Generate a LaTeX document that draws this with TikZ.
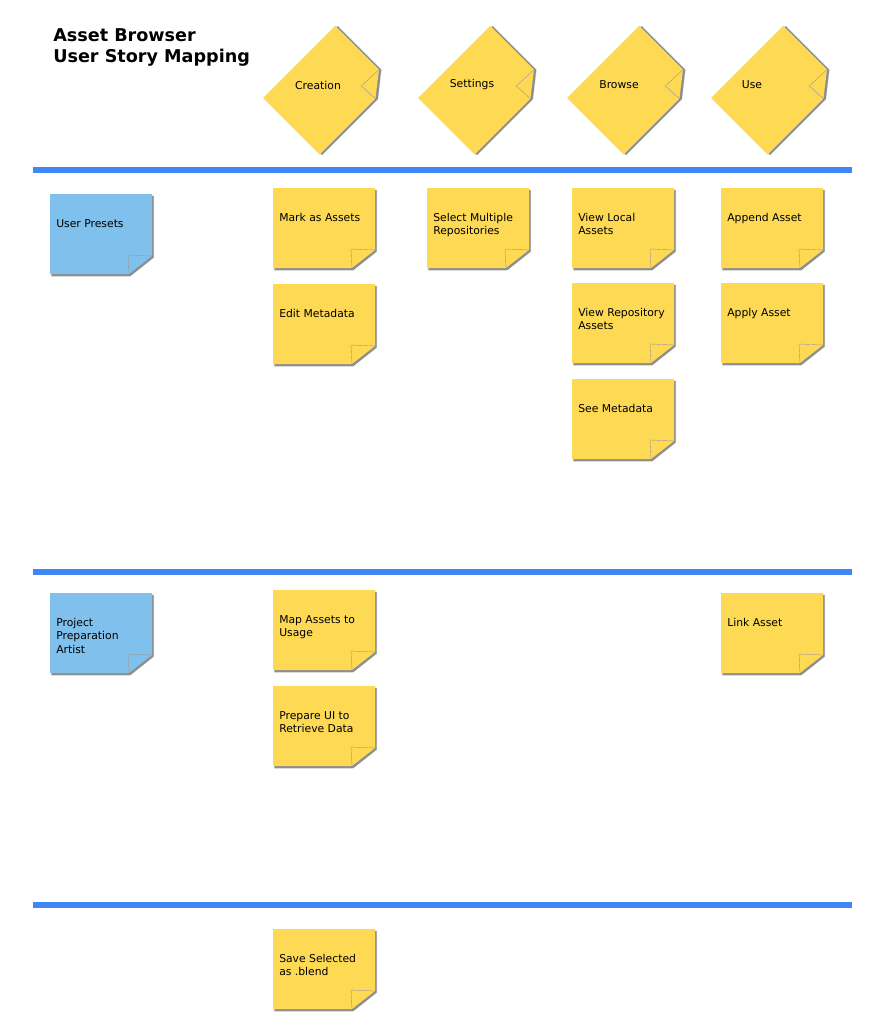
\documentclass[tikz,border=0pt]{standalone}
\usepackage{fontspec}
\setmainfont{DejaVu Sans}

\definecolor{noteyellow}{RGB}{254,217,84}
\definecolor{noteblue}{RGB}{128,192,236}
\definecolor{barblue}{RGB}{66,133,244}

\begin{document}
\begin{tikzpicture}[x=0.75pt,y=-0.75pt,
  every node/.style={font=\fontsize{8.1}{10.1}\selectfont,inner sep=0pt,align=left},
  pics/sticky/.style={code={
    % shadow, note, folded corner
    \fill[black,opacity=0.15] (1,1.5) -- (104,1.5) -- (104,64) -- (80,82.5) -- (1,82.5) -- cycle;
    \fill[black,opacity=0.35] (1.5,2) -- (103.5,2) -- (103.5,63.5) -- (80.5,82) -- (1.5,82) -- cycle;
    \fill[#1] (0,0) -- (102,0) -- (102,62) -- (79,80) -- (0,80) -- cycle;
    \draw[black!40,line width=0.3pt] (102,62) -- (78,61) -- (79,80);
  }}]
  \fill[white] (0,0) rectangle (875,1024);
  \useasboundingbox (0,0) rectangle (875,1024);

  % title
  \node[anchor=north west,font=\bfseries\fontsize{13.2}{16.4}\selectfont] (title) at (53,28)
    {Asset Browser\\User Story Mapping};

  % activities (rotated notes)
  \foreach \n/\x/\lx/\t in {creation/263/318/Creation,settings/418/472/Settings,
                            browse/567/619/Browse,use/711/752/Use}{
    \pic[rotate=45] at (\x,98) {sticky=noteyellow};
    \node (\n) at (\lx,85) {\t};
  }

  % release lines
  \foreach \y in {170,572,905}
    \fill[barblue] (33,\y-3) rectangle (852,\y+3);

  % stories
  \foreach \n/\x/\y/\c/\t in {
      presets/50/194/noteblue/{User Presets},
      mark/273/188/noteyellow/{Mark as Assets},
      editmeta/273/284/noteyellow/{Edit Metadata},
      selectrepo/427/188/noteyellow/{Select Multiple\\Repositories},
      viewlocal/572/188/noteyellow/{View Local\\Assets},
      viewrepo/572/283/noteyellow/{View Repository\\Assets},
      seemeta/572/379/noteyellow/{See Metadata},
      append/721/188/noteyellow/{Append Asset},
      apply/721/283/noteyellow/{Apply Asset},
      artist/50/593/noteblue/{Project\\Preparation\\Artist},
      mapassets/273/590/noteyellow/{Map Assets to\\Usage},
      prepareui/273/686/noteyellow/{Prepare UI to\\Retrieve Data},
      link/721/593/noteyellow/{Link Asset},
      saveblend/273/929/noteyellow/{Save Selected\\as .blend}}{
    \pic at (\x,\y) {sticky=\c};
    \node[anchor=north west] (\n) at (\x+6,\y+25) {\t};
  }
\end{tikzpicture}
\end{document}
